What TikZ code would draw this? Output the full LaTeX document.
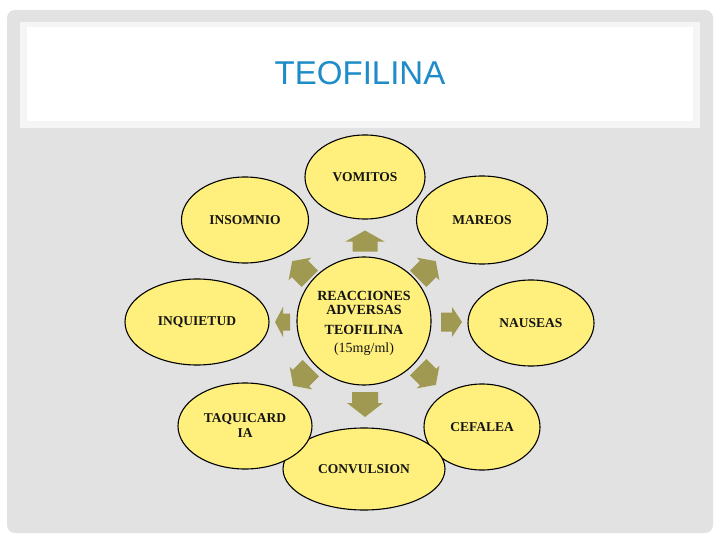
\documentclass[tikz,border=0pt]{standalone}
\usepackage{fontspec}
\setmainfont{Liberation Serif}
\newfontfamily\titlefont{Liberation Sans}
\usetikzlibrary{shapes.geometric}
\definecolor{ellfill}{RGB}{255,240,125}
\definecolor{arrowcol}{RGB}{160,153,82}
\definecolor{framegray}{RGB}{226,226,226}
\definecolor{titleblue}{RGB}{30,140,200}
\definecolor{txt}{RGB}{20,20,20}
\tikzset{
  ell/.style={ellipse, draw=black, line width=1.1pt, fill=ellfill, inner sep=0pt,
    align=center, font=\fontsize{13.5}{15}\selectfont\bfseries, text=txt},
  pics/barrow/.style n args={4}{code={
    \fill[arrowcol] ({-#1/2},{-#4}) -- ({#1/2-#2},{-#4}) -- ({#1/2-#2},{-#3}) -- ({#1/2},0)
      -- ({#1/2-#2},{#3}) -- ({#1/2-#2},{#4}) -- ({-#1/2},{#4}) -- cycle;
  }}
}
\begin{document}
\begin{tikzpicture}[x=1pt,y=-1pt]
\useasboundingbox (0,0) rectangle (720,540);
\fill[white] (0,0) rectangle (720,540);
\fill[framegray, rounded corners=8pt] (7,10) rectangle (713,533);
\fill[white!96!black] (20,22) rectangle (700,128);
\fill[white] (27,27) rectangle (693,121);
\node[font=\titlefont\fontsize{33}{36}\selectfont, text=titleblue] (title) at (360,73) {TEOFILINA};

% arrows
\pic[rotate=90] at (365,241) {barrow={21}{11}{19.5}{12.5}};
\pic[rotate=270] at (365,404.5) {barrow={25}{14}{18}{13}};
\pic[rotate=180] at (282.5,322) {barrow={15}{8}{15}{8.5}};
\pic[rotate=0] at (451.5,322) {barrow={21}{10}{15}{9.5}};
\pic[rotate=135] at (301,270) {barrow={25}{11}{16}{11.5}};
\pic[rotate=45] at (427,270) {barrow={25}{11}{16}{11.5}};
\pic[rotate=225] at (302,377) {barrow={25}{11}{16}{11.5}};
\pic[rotate=315] at (427,376) {barrow={25}{11}{16}{11.5}};

% ellipses
\node[ell, minimum width=134pt, minimum height=128pt] (center) at (364,321) {};
\node[font=\fontsize{14}{14.5}\selectfont\bfseries, text=txt, align=center] (ctxt1) at (364,303) {REACCIONES\\[-1pt]ADVERSAS};
\node[font=\fontsize{14}{14}\selectfont\bfseries, text=txt] (ctxt2) at (364,330) {TEOFILINA};
\node[font=\fontsize{14}{14}\selectfont, text=txt] (ctxt3) at (364,349) {(15mg/ml)};
\node[ell, minimum width=120pt, minimum height=84pt] (vom) at (365,177) {VOMITOS};
\node[ell, minimum width=127pt, minimum height=86pt] (ins) at (245,220) {INSOMNIO};
\node[ell, minimum width=131pt, minimum height=88pt] (mar) at (482,220) {MAREOS};
\node[ell, minimum width=144pt, minimum height=86pt] (inq) at (197,322) {INQUIETUD};
\node[ell, minimum width=126pt, minimum height=86pt] (nau) at (531,323) {NAUSEAS};
\node[ell, minimum width=116pt, minimum height=86pt] (cef) at (482,427) {CEFALEA};
\node[ell, minimum width=162pt, minimum height=82pt] (conv) at (364,469) {CONVULSION};
\node[ell, minimum width=134pt, minimum height=86pt] (taq) at (245,426) {TAQUICARD\\IA};
\end{tikzpicture}
\end{document}
